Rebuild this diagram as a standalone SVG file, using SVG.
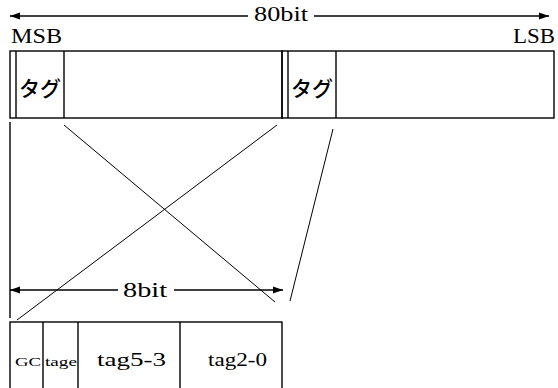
<svg xmlns="http://www.w3.org/2000/svg" width="558" height="388" viewBox="0 0 558 388">
<defs>
<marker id="ah" viewBox="0 0 10 10" refX="10" refY="5" markerWidth="10" markerHeight="10" markerUnits="userSpaceOnUse" orient="auto-start-reverse">
<path d="M0,1.5 L10,5 L0,8.5 Z" fill="#000"/>
</marker>
<style>
.s{fill:none;stroke:#000;stroke-width:1.4}
.t{fill:none;stroke:#000;stroke-width:1}
.a{fill:none;stroke:#000;stroke-width:1.4}
.l{font-family:'Liberation Serif','DejaVu Serif',serif;fill:#000}
.j{font-family:'Noto Sans CJK JP',sans-serif;font-size:21px;font-weight:500;fill:#000}
</style>
</defs>
<rect width="558" height="388" fill="#fff"/>
<g id="top-scale">
<line class="a" x1="10" y1="16" x2="248" y2="16" marker-start="url(#ah)"/>
<line class="a" x1="314" y1="16" x2="549" y2="16" marker-end="url(#ah)"/>
<text class="l" x="254" y="21" font-size="20" textLength="54" lengthAdjust="spacingAndGlyphs">80bit</text>
<text class="l" x="11" y="43" font-size="20" textLength="51" lengthAdjust="spacingAndGlyphs">MSB</text>
<text class="l" x="513" y="43" font-size="20" textLength="42" lengthAdjust="spacingAndGlyphs">LSB</text>
</g>
<g id="word-high">
<rect class="s" x="10" y="51" width="272" height="67"/>
<line class="s" x1="16" y1="51" x2="16" y2="118"/>
<line class="s" x1="64" y1="51" x2="64" y2="118"/>
<text class="j" x="40" y="96" text-anchor="middle">タグ</text>
</g>
<g id="word-low">
<rect class="s" x="282" y="51" width="272" height="67"/>
<line class="s" x1="288" y1="51" x2="288" y2="118"/>
<line class="s" x1="336" y1="51" x2="336" y2="118"/>
<text class="j" x="312" y="96" text-anchor="middle">タグ</text>
</g>
<g id="connectors">
<line class="s" x1="10" y1="122" x2="10" y2="318"/>
<line class="t" x1="64" y1="125" x2="275" y2="302"/>
<line class="t" x1="277" y1="125" x2="17" y2="320"/>
<line class="t" x1="333" y1="129" x2="290" y2="301"/>
</g>
<g id="byte-scale">
<line class="a" x1="10" y1="290" x2="118" y2="290" marker-start="url(#ah)"/>
<line class="a" x1="174" y1="290" x2="283" y2="290" marker-end="url(#ah)"/>
<text class="l" x="123" y="297" font-size="20" textLength="44" lengthAdjust="spacingAndGlyphs">8bit</text>
</g>
<g id="byte">
<rect class="s" x="10" y="322" width="272" height="70"/>
<line class="s" x1="43" y1="322" x2="43" y2="392"/>
<line class="s" x1="78" y1="322" x2="78" y2="392"/>
<line class="s" x1="180" y1="322" x2="180" y2="392"/>
<text class="l" x="15" y="366" font-size="13" textLength="26" lengthAdjust="spacingAndGlyphs">GC</text>
<text class="l" x="45" y="366" font-size="12" textLength="32" lengthAdjust="spacingAndGlyphs">tage</text>
<text class="l" x="97" y="366" font-size="19" textLength="69" lengthAdjust="spacingAndGlyphs">tag5-3</text>
<text class="l" x="208" y="366" font-size="19" textLength="59" lengthAdjust="spacingAndGlyphs">tag2-0</text>
</g>
</svg>
